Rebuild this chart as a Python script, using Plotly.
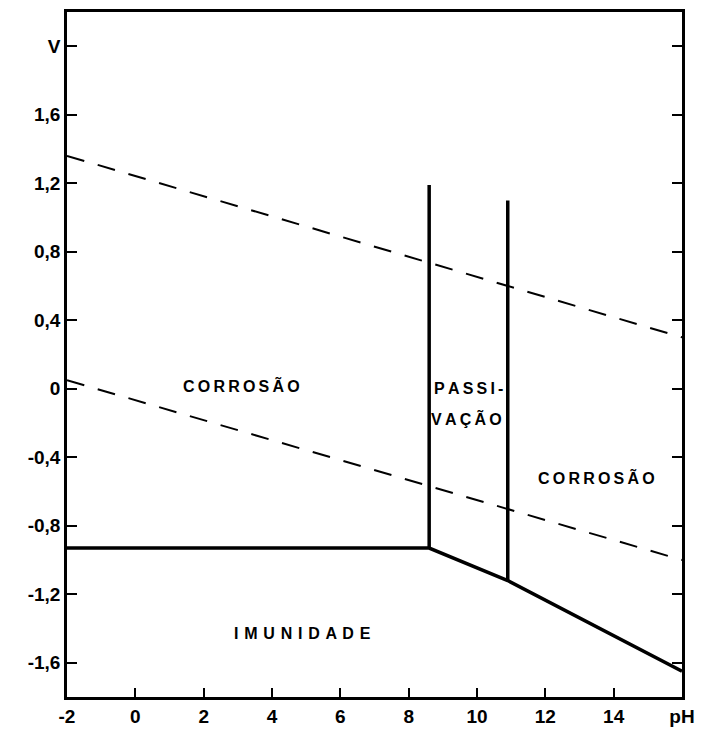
import plotly.graph_objects as go

# Pourbaix-type diagram: potential (V) versus pH
# water stability limits (dashed)
o2_ph = [-2, 16]
o2_v = [1.36, 0.30]
h2_ph = [-2, 16]
h2_v = [0.05, -1.00]

# domain boundaries (solid)
imm_ph = [-2, 8.6, 10.9, 16]
imm_v = [-0.93, -0.93, -1.12, -1.65]
pass_left_ph = [8.6, 8.6]
pass_left_v = [-0.93, 1.19]
pass_right_ph = [10.9, 10.9]
pass_right_v = [-1.12, 1.10]

# region labels
TH = "\u2009"           # thin space
WIDE = " \u200a"        # space plus hair space
region_text = [
    TH.join("CORROSÃO"),
    TH.join("PASSI-"),
    TH.join("VAÇÃO"),
    TH.join("CORROSÃO"),
    WIDE.join("IMUNIDADE"),
]
region_ph = [3.1, 9.75, 9.7, 13.5, 4.9]
region_v = [0.02, 0.0, -0.175, -0.52, -1.43]

x_ticks = [-2, 0, 2, 4, 6, 8, 10, 12, 14, 16]
x_tick_text = ["-2", "0", "2", "4", "6", "8", "10", "12", "14", "pH"]
y_ticks = [-1.6, -1.2, -0.8, -0.4, 0, 0.4, 0.8, 1.2, 1.6, 2.0]
y_tick_text = ["-1,6", "-1,2", "-0,8", "-0,4", "0", "0,4", "0,8", "1,2", "1,6", "V"]

fig = go.Figure()

dash_style = dict(color="black", width=2, dash="18px,14px")
fig.add_trace(go.Scatter(x=o2_ph, y=o2_v, mode="lines", line=dash_style))
fig.add_trace(go.Scatter(x=h2_ph, y=h2_v, mode="lines", line=dash_style))

solid = dict(color="black", width=3.5)
fig.add_trace(go.Scatter(x=imm_ph, y=imm_v, mode="lines", line=solid))
fig.add_trace(go.Scatter(x=pass_left_ph, y=pass_left_v, mode="lines", line=solid))
fig.add_trace(go.Scatter(x=pass_right_ph, y=pass_right_v, mode="lines", line=solid))

for txt, xp, yp in zip(region_text, region_ph, region_v):
    fig.add_annotation(x=xp, y=yp, xref="x", yref="y", text=txt, showarrow=False,
                       font=dict(family="Liberation Sans", size=16, color="black", weight="bold"),
                       align="center")

tick_font = dict(family="Liberation Sans", size=19, color="black", weight="bold")

fig.update_xaxes(range=[-2, 16], tickvals=x_ticks, ticktext=x_tick_text,
                 ticks="inside", ticklen=9, tickwidth=2, tickcolor="black",
                 showline=True, linecolor="black", linewidth=2.5, mirror=True,
                 showgrid=False, zeroline=False, tickfont=tick_font)
fig.update_yaxes(range=[-1.8, 2.2], tickvals=y_ticks, ticktext=y_tick_text,
                 ticks="inside", ticklen=10, tickwidth=2, tickcolor="black",
                 showline=True, linecolor="black", linewidth=2.5, mirror="ticks",
                 showgrid=False, zeroline=False, tickfont=tick_font)

fig.update_layout(width=704, height=736, showlegend=False,
                  margin=dict(l=67, r=16, t=9, b=39),
                  plot_bgcolor="white", paper_bgcolor="white")

fig.write_html("out.html")
